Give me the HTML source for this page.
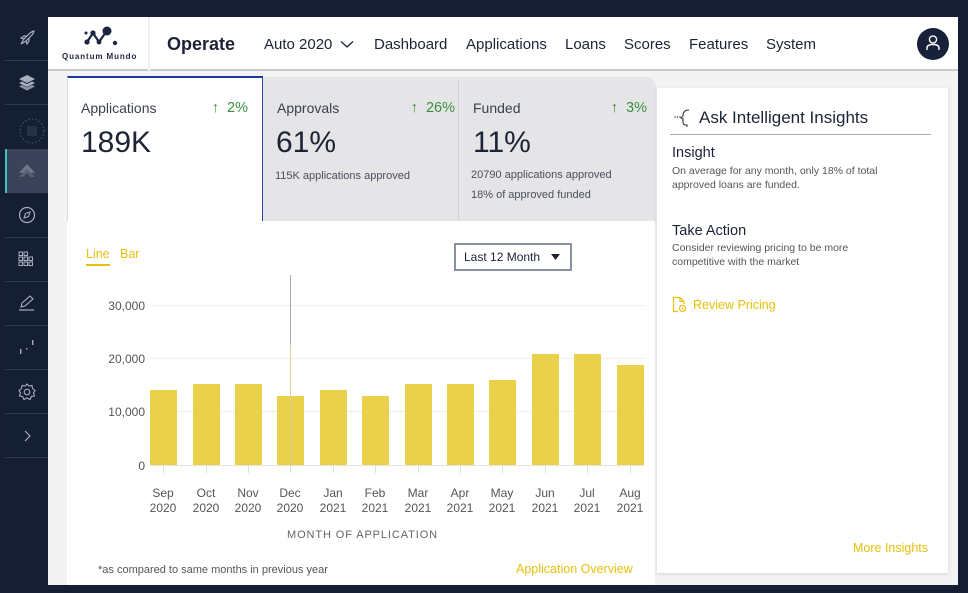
<!DOCTYPE html>
<html><head><meta charset="utf-8">
<style>
*{margin:0;padding:0;box-sizing:border-box}
body{width:968px;height:593px;background:#151e33;font-family:"Liberation Sans",Arial,sans-serif;position:relative;overflow:hidden}
.a{position:absolute;white-space:nowrap}
.sep{position:absolute;left:5px;width:43px;height:1px;background:#2e3950}
.nav{position:absolute;top:36px;font-size:15px;color:#1c2334}
.yl{position:absolute;right:823px;font-size:12px;color:#555;text-align:right}
.bar{position:absolute;width:27px;background:#e9d14b;bottom:128px}
.xl{position:absolute;top:486px;width:50px;text-align:center;font-size:12px;line-height:15px;color:#555}
.tk{position:absolute;top:466px;width:1px;height:7px;background:#ddd}
.g{position:absolute;left:150px;width:495px;height:1px;background:#efefef}
.pct{position:absolute;top:100px;font-size:14.5px;color:#3a8f3f;text-align:right;width:80px;white-space:nowrap}
</style></head><body>

<!-- sidebar -->
<div class="a" style="left:5px;top:17px;width:43px;height:440px;background:#151f34"></div>
<svg class="a" style="left:17px;top:28px" width="20" height="20" viewBox="0 0 20 20"><path d="M4 16 L7 11 L13 5 Q16 3 17 3 Q17 4 15 7 L9 13 Z M7 11 L4 10 L7 8 L10 8 M9 13 L10 16 L12 13 L12 10" fill="none" stroke="#a7aebe" stroke-width="1.2"/></svg>
<div class="sep" style="top:60px"></div>
<svg class="a" style="left:17px;top:74px" width="20" height="18" viewBox="0 0 20 18"><path d="M2 5 L10 1 L18 5 L10 9 Z" fill="#a7aebe"/><path d="M2 9 L10 13 L18 9 L15 7.5 L10 10 L5 7.5 Z" fill="#a7aebe"/><path d="M2 12.5 L10 16.5 L18 12.5 L15 11 L10 13.5 L5 11 Z" fill="#8d94a6"/></svg>
<div class="sep" style="top:104px"></div>
<svg class="a" style="left:18px;top:117px" width="28" height="28" viewBox="0 0 28 28"><circle cx="14" cy="14" r="12" fill="none" stroke="#2b6b6a" stroke-width="1" stroke-dasharray="1.5 2"/><rect x="9" y="9" width="10" height="10" fill="#263047"/></svg>
<div class="a" style="left:5px;top:149px;width:43px;height:44px;background:#3b4259"></div>
<div class="a" style="left:5px;top:149px;width:2px;height:44px;background:#3dc3bf"></div>
<svg class="a" style="left:17px;top:161px" width="20" height="18" viewBox="0 0 20 18"><path d="M2 12 L10 3 L18 12 Z" fill="#6f7689"/><path d="M2 16 L10 8 L18 16 L14 16 L10 12 L6 16 Z" fill="#5a6176"/></svg>
<svg class="a" style="left:17px;top:205px" width="20" height="20" viewBox="0 0 20 20"><circle cx="10" cy="10" r="7.5" fill="none" stroke="#a7aebe" stroke-width="1.2"/><path d="M13 7 L8.5 8.5 L7 13 L11.5 11.5 Z" fill="none" stroke="#a7aebe" stroke-width="1.1"/></svg>
<div class="sep" style="top:237px"></div>
<svg class="a" style="left:18px;top:251px" width="18" height="18" viewBox="0 0 18 18"><g fill="none" stroke="#a7aebe" stroke-width="1"><rect x="1" y="1" width="3.5" height="3.5"/><rect x="6" y="1" width="3.5" height="3.5"/><rect x="1" y="6" width="3.5" height="3.5"/><rect x="6" y="6" width="3.5" height="3.5"/><rect x="11" y="6" width="3.5" height="3.5"/><rect x="6" y="11" width="3.5" height="3.5"/><rect x="11" y="11" width="3.5" height="3.5"/><rect x="1" y="11" width="3.5" height="3.5"/></g></svg>
<div class="sep" style="top:281px"></div>
<svg class="a" style="left:17px;top:294px" width="20" height="18" viewBox="0 0 20 18"><path d="M4 13 L5 9 L13 2 L16 5 L8 12 Z" fill="none" stroke="#a7aebe" stroke-width="1.1"/><path d="M2 16 L17 16" stroke="#a7aebe" stroke-width="1.2"/></svg>
<div class="sep" style="top:325px"></div>
<svg class="a" style="left:17px;top:338px" width="20" height="18" viewBox="0 0 20 18"><rect x="3" y="11" width="1.4" height="5" fill="#a7aebe"/><rect x="9" y="10" width="1.4" height="1.5" fill="#a7aebe"/><rect x="15" y="2" width="1.4" height="5" fill="#a7aebe"/></svg>
<div class="sep" style="top:369px"></div>
<svg class="a" style="left:17px;top:382px" width="20" height="20" viewBox="0 0 20 20"><path d="M10 2 L12 4 L15 3.5 L15.5 6.5 L18 8.5 L16.5 11 L17.5 14 L14.5 14.5 L13 17.5 L10 16 L7 17.5 L5.5 14.5 L2.5 14 L3.5 11 L2 8.5 L4.5 6.5 L5 3.5 L8 4 Z" fill="none" stroke="#a7aebe" stroke-width="1.1"/><circle cx="10" cy="10" r="2.8" fill="none" stroke="#a7aebe" stroke-width="1.1"/></svg>
<div class="sep" style="top:413px"></div>
<svg class="a" style="left:21px;top:429px" width="12" height="14" viewBox="0 0 12 14"><path d="M4 2 L9 7 L4 12" fill="none" stroke="#a7aebe" stroke-width="1.2"/></svg>
<div class="sep" style="top:457px"></div>

<!-- main panel -->
<div class="a" style="left:48px;top:17px;width:910px;height:568px;background:#f3f3f4"></div>
<div class="a" style="left:48px;top:17px;width:910px;height:54px;background:#fff;border-bottom:2px solid #cacaca"></div>
<div class="a" style="left:148px;top:17px;width:2px;height:54px;background:#f0f0f0"></div>
<svg class="a" style="left:82px;top:24px" width="40" height="25" viewBox="0 0 40 25"><g stroke="#1d2540" stroke-width="2.2"><line x1="5" y1="18" x2="11" y2="9"/><line x1="11" y1="9" x2="17" y2="18"/><line x1="17" y1="18" x2="24" y2="8"/></g><g fill="#1d2540"><circle cx="5" cy="18" r="2.6"/><circle cx="11" cy="9" r="2.6"/><circle cx="17" cy="18" r="2.4"/><circle cx="25" cy="7" r="4.5"/><circle cx="33" cy="19" r="2.2"/><circle cx="4" cy="9" r="1.5"/></g></svg>
<div class="a" style="left:62px;top:52px;font-size:8px;font-weight:bold;letter-spacing:0.9px;color:#1d2540">Quantum Mundo</div>
<div class="a" style="left:167px;top:34px;font-size:18px;font-weight:bold;color:#1c2334">Operate</div>
<div class="nav" style="left:264px">Auto 2020</div>
<svg class="a" style="left:340px;top:40px" width="14" height="9" viewBox="0 0 14 9"><path d="M1 1.5 L7 7 L13 1.5" fill="none" stroke="#1c2334" stroke-width="1.3"/></svg>
<div class="nav" style="left:374px">Dashboard</div>
<div class="nav" style="left:466px">Applications</div>
<div class="nav" style="left:565px">Loans</div>
<div class="nav" style="left:624px">Scores</div>
<div class="nav" style="left:689px">Features</div>
<div class="nav" style="left:766px">System</div>
<svg class="a" style="left:917px;top:28px" width="32" height="32" viewBox="0 0 32 32"><circle cx="16" cy="16" r="16" fill="#18213a"/><circle cx="16" cy="11.5" r="3.6" fill="none" stroke="#fff" stroke-width="1.4"/><path d="M10 22 L10 20 Q10 16.5 16 16.5 Q22 16.5 22 20 L22 22" fill="none" stroke="#fff" stroke-width="1.4"/></svg>

<!-- cards -->
<div class="a" style="left:263px;top:77px;width:392px;height:144px;background:#e5e5e8;border-top-right-radius:9px;box-shadow:0 2px 2px #c8c8cc"></div>
<div class="a" style="left:458px;top:80px;width:1px;height:140px;background:#d2d2d6"></div>
<div class="a" style="left:67px;top:76px;width:196px;height:145px;background:#fff;border-top:2px solid #1c3a9c;border-right:1.5px solid #2745a8;border-left:1px solid #d6d9e6"></div>
<div class="a" style="left:81px;top:100px;font-size:14px;color:#3a3f4c">Applications</div>
<div class="pct" style="left:168px">↑&nbsp; 2%</div>
<div class="a" style="left:81px;top:126px;font-size:30px;color:#1c2334">189K</div>
<div class="a" style="left:277px;top:100px;font-size:14px;color:#3a3f4c">Approvals</div>
<div class="pct" style="left:375px">↑&nbsp; 26%</div>
<div class="a" style="left:276px;top:126px;font-size:30px;color:#1c2334">61%</div>
<div class="a" style="left:275px;top:170px;font-size:11px;color:#4a4f5c">115K applications approved</div>
<div class="a" style="left:473px;top:100px;font-size:14px;color:#3a3f4c">Funded</div>
<div class="pct" style="left:567px">↑&nbsp; 3%</div>
<div class="a" style="left:473px;top:126px;font-size:30px;color:#1c2334">11%</div>
<div class="a" style="left:471px;top:169px;font-size:11px;color:#4a4f5c">20790 applications approved</div>
<div class="a" style="left:471px;top:189px;font-size:11px;color:#4a4f5c">18% of approved funded</div>

<!-- chart panel -->
<div class="a" style="left:67px;top:221px;width:588px;height:364px;background:#fff"></div>
<div class="a" style="left:86px;top:247px;font-size:12.5px;color:#e6c00d">Line</div>
<div class="a" style="left:86px;top:264px;width:24px;height:2px;background:#e6c00d"></div>
<div class="a" style="left:120px;top:247px;font-size:12.5px;color:#e6c00d">Bar</div>
<div class="a" style="left:454px;top:243px;width:118px;height:28px;border:2px solid #8b90a2;background:#fff"></div>
<div class="a" style="left:464px;top:250px;font-size:12px;color:#1c2334">Last 12 Month</div>
<svg class="a" style="left:551px;top:254px" width="9" height="6" viewBox="0 0 9 6"><path d="M0 0 L9 0 L4.5 6 Z" fill="#1c2334"/></svg>

<div class="g" style="top:305px"></div>
<div class="g" style="top:358px"></div>
<div class="g" style="top:411px"></div>
<div class="g" style="top:465px;background:#e4e4e4"></div>
<div class="yl" style="top:299px">30,000</div>
<div class="yl" style="top:352px">20,000</div>
<div class="yl" style="top:405px">10,000</div>
<div class="yl" style="top:459px">0</div>

<div class="bar" style="left:150px;top:390px"></div>
<div class="bar" style="left:193px;top:384px"></div>
<div class="bar" style="left:235px;top:384px"></div>
<div class="bar" style="left:277px;top:396px"></div>
<div class="bar" style="left:320px;top:390px"></div>
<div class="bar" style="left:362px;top:396px"></div>
<div class="bar" style="left:405px;top:384px"></div>
<div class="bar" style="left:447px;top:384px"></div>
<div class="bar" style="left:489px;top:380px"></div>
<div class="bar" style="left:532px;top:354px"></div>
<div class="bar" style="left:574px;top:354px"></div>
<div class="bar" style="left:617px;top:365px"></div>

<div class="a" style="left:290px;top:275px;width:1px;height:70px;background:#a3a8ba"></div>
<div class="a" style="left:290px;top:345px;width:1px;height:122px;background:#d9d2a0"></div>

<div class="tk" style="left:163px"></div><div class="tk" style="left:206px"></div><div class="tk" style="left:248px"></div><div class="tk" style="left:290px"></div><div class="tk" style="left:333px"></div><div class="tk" style="left:375px"></div><div class="tk" style="left:418px"></div><div class="tk" style="left:460px"></div><div class="tk" style="left:502px"></div><div class="tk" style="left:545px"></div><div class="tk" style="left:587px"></div><div class="tk" style="left:630px"></div>

<div class="xl" style="left:138px">Sep<br>2020</div>
<div class="xl" style="left:181px">Oct<br>2020</div>
<div class="xl" style="left:223px">Nov<br>2020</div>
<div class="xl" style="left:265px">Dec<br>2020</div>
<div class="xl" style="left:308px">Jan<br>2021</div>
<div class="xl" style="left:350px">Feb<br>2021</div>
<div class="xl" style="left:393px">Mar<br>2021</div>
<div class="xl" style="left:435px">Apr<br>2021</div>
<div class="xl" style="left:477px">May<br>2021</div>
<div class="xl" style="left:520px">Jun<br>2021</div>
<div class="xl" style="left:562px">Jul<br>2021</div>
<div class="xl" style="left:605px">Aug<br>2021</div>

<div class="a" style="left:287px;top:529px;font-size:11px;letter-spacing:0.9px;color:#666">MONTH OF APPLICATION</div>
<div class="a" style="left:98px;top:564px;font-size:11px;color:#555">*as compared to same months in previous year</div>
<div class="a" style="left:516px;top:562px;font-size:12.5px;color:#e6c00d">Application Overview</div>

<!-- insights -->
<div class="a" style="left:657px;top:88px;width:291px;height:485px;background:#fff;box-shadow:0 1px 4px rgba(0,0,0,0.12)"></div>
<svg class="a" style="left:672px;top:108px" width="22" height="20" viewBox="0 0 22 20"><path d="M17 2 Q11 2 11 8 L9 10 L11 11 L11 14 Q11 17 14 17 L15 17 L15 19" fill="none" stroke="#333" stroke-width="1.1"/><circle cx="3" cy="9" r="0.7" fill="#333"/><circle cx="5.5" cy="9" r="0.7" fill="#333"/><circle cx="8" cy="9" r="0.7" fill="#333"/></svg>
<div class="a" style="left:699px;top:108px;font-size:17px;color:#1c2334">Ask Intelligent Insights</div>
<div class="a" style="left:670px;top:134px;width:261px;height:1px;background:#a8acb6"></div>
<div class="a" style="left:672px;top:145px;font-size:14.5px;color:#1c2334">Insight</div>
<div class="a" style="left:672px;top:165px;font-size:10.5px;line-height:13.5px;color:#555">On average for any month, only 18% of total<br>approved loans are funded.</div>
<div class="a" style="left:672px;top:223px;font-size:14.5px;color:#1c2334">Take Action</div>
<div class="a" style="left:672px;top:242px;font-size:10.5px;line-height:13.5px;color:#555">Consider reviewing pricing to be more<br>competitive with the market</div>
<svg class="a" style="left:672px;top:296px" width="16" height="17" viewBox="0 0 16 17"><path d="M6 15.5 L1.5 15.5 L1.5 1.5 L8 1.5 L12 5.5 L12 8" fill="none" stroke="#e6c00d" stroke-width="1.2"/><path d="M8 1.5 L8 5.5 L12 5.5" fill="none" stroke="#e6c00d" stroke-width="1.1"/><circle cx="10.5" cy="12.5" r="3" fill="none" stroke="#e6c00d" stroke-width="1.2"/><circle cx="10.5" cy="12.5" r="1" fill="#e6c00d"/></svg>
<div class="a" style="left:693px;top:298px;font-size:12.5px;color:#e6c00d">Review Pricing</div>
<div class="a" style="left:853px;top:541px;font-size:12.5px;color:#e6c00d">More Insights</div>
</body></html>
